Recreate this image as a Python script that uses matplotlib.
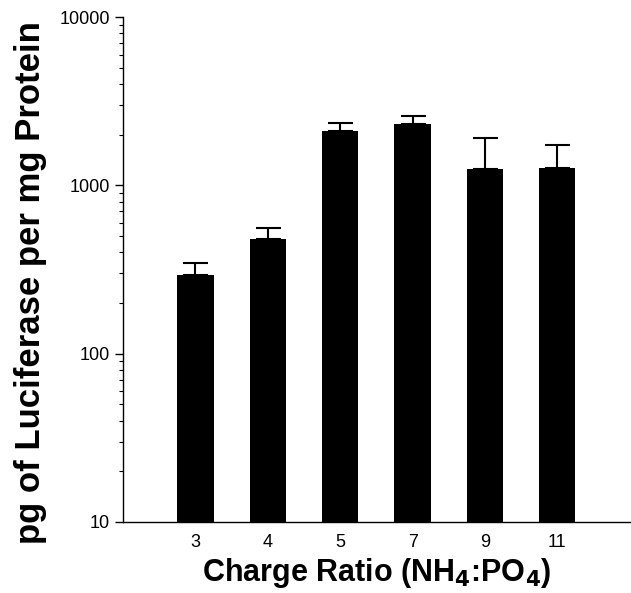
import numpy as np
import matplotlib
matplotlib.use("Agg")
import matplotlib.pyplot as plt
from matplotlib.ticker import LogLocator, NullFormatter, FixedLocator, FixedFormatter

# data
ratios = ["3", "4", "5", "7", "9", "11"]
luciferase = [295, 483, 2096, 2307, 1245, 1262]
err_top = [348, 555, 2339, 2576, 1905, 1730]

plt.rcParams['font.family'] = ['Liberation Sans', 'DejaVu Sans']
plt.rcParams['mathtext.default'] = 'bf'

fig = plt.figure(figsize=(6.31, 5.93), dpi=100)
ax = fig.add_axes([0.195, 0.12, 0.803, 0.851])

x = np.arange(len(ratios))
upper = np.array(err_top) - np.array(luciferase)
ax.bar(x, luciferase, width=0.5, color="black", zorder=2)
ax.errorbar(x, luciferase, yerr=[np.zeros(len(x)), upper], fmt="none",
            ecolor="black", elinewidth=1.5, capsize=9, capthick=1.5, zorder=1)

ax.set_yscale("log")
ax.set_ylim(10, 10000)
ax.set_xlim(-1, 6)

ax.yaxis.set_major_locator(FixedLocator([10, 100, 1000, 10000]))
ax.yaxis.set_major_formatter(FixedFormatter(["10", "100", "1000", "10000"]))
ax.yaxis.set_minor_locator(LogLocator(base=10, subs=np.arange(2, 10)))
ax.yaxis.set_minor_formatter(NullFormatter())

ax.set_xticks(x)
ax.set_xticklabels(ratios)
ax.tick_params(axis="x", length=0, labelsize=13, pad=9)
ax.tick_params(axis="y", which="major", length=6, width=1, labelsize=13)
ax.tick_params(axis="y", which="minor", length=3, width=0.8)

for s in ["top", "right"]:
    ax.spines[s].set_visible(False)
for s in ["left", "bottom"]:
    ax.spines[s].set_linewidth(1)

ax.set_ylabel("pg of Luciferase per mg Protein", fontsize=25, fontweight="bold", labelpad=2)
ax.yaxis.set_label_coords(-0.15, 0.475)
ax.set_xlabel("Charge Ratio (NH$_4$:PO$_4$)", fontsize=22, fontweight="bold", labelpad=3)

fig.savefig("out.png", dpi=100)
